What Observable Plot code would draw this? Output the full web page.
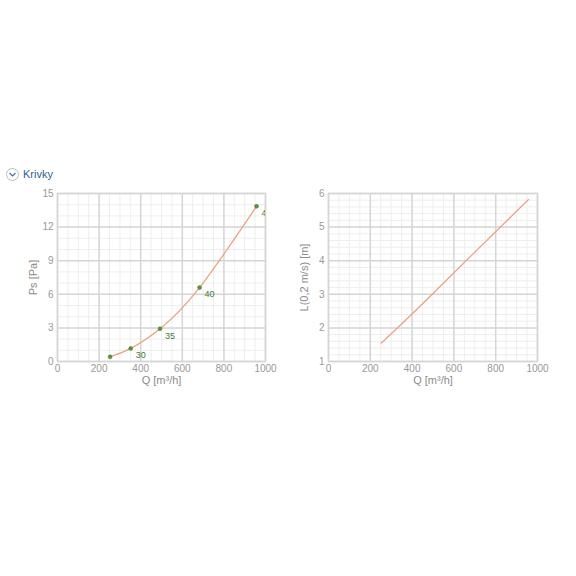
<!DOCTYPE html>
<html>
<head>
<meta charset="utf-8">
<script src="https://cdn.jsdelivr.net/npm/d3@7"></script>
<script src="https://cdn.jsdelivr.net/npm/@observablehq/plot@0.6"></script>
<style>
  html, body { margin: 0; padding: 0; background: #fff; }
  body { width: 576px; height: 576px; position: relative; overflow: hidden; font-family: "Liberation Sans", Arial, sans-serif; }
  #hdr { position: absolute; left: 6px; top: 166px; height: 16px; display: flex; align-items: center; }
  #hdr .ico { width: 13px; height: 13px; border: 1px solid #bbb; border-radius: 50%; box-sizing: border-box; display: flex; align-items: center; justify-content: center; }
  #hdr .txt { margin-left: 4px; font-size: 11px; color: #2f5f8f; }
  #left { position: absolute; left: 0; top: 180px; }
  #right { position: absolute; left: 288px; top: 180px; }
  svg [aria-label="x-axis label"] text, svg [aria-label="y-axis label"] text { font-size: 11px; fill: #8c8c8c; }
</style>
</head>
<body>
<div id="hdr"><div class="ico"><svg width="9" height="9" viewBox="0 0 9 9"><path d="M1.5 3 L4.5 6 L7.5 3" fill="none" stroke="#4a6a8a" stroke-width="1.1"/></svg></div><div class="txt">Krivky</div></div>
<div id="left"></div>
<div id="right"></div>
<script>
// Data
const speedLabels = [20, 25, 30, 35, 40, 45];
const flowQ = [215, 253, 352, 493, 683, 957];
const staticPs = [-0.3, 0.42, 1.17, 2.93, 6.6, 13.86];
const throwL = [1.3, 1.55, 2.13, 2.98, 4.15, 5.82];

const qTicks = [0, 200, 400, 600, 800, 1000];
const psTicks = [0, 3, 6, 9, 12, 15];
const lTicks = [1, 2, 3, 4, 5, 6];

const rows = speedLabels.map((s, i) => ({s, q: flowQ[i], ps: staticPs[i], l: throwL[i]}));
const curveRows = rows.filter(d => d.s >= 25);

const font = '"Liberation Sans", Arial, sans-serif';
const gridMinor = "#eeeeee";
const gridMajor = "#d6d6d6";
const curveColor = "#e9a07c";

function chart(yKey, yDomain, yTicks, yMinorStep, yLabel, margins, withPoints) {
  const marks = [
    Plot.gridX(d3.range(0, 1001, 50), {stroke: gridMinor, strokeOpacity: 1}),
    Plot.gridY(d3.range(yDomain[0], yDomain[1] + 1e-9, yMinorStep), {stroke: gridMinor, strokeOpacity: 1}),
    Plot.gridX(qTicks, {stroke: gridMajor, strokeOpacity: 1, strokeWidth: 1.5}),
    Plot.gridY(yTicks, {stroke: gridMajor, strokeOpacity: 1, strokeWidth: 1.5}),
    Plot.frame({stroke: gridMajor, strokeWidth: 1.5}),
    Plot.axisX(qTicks, {tickSize: 0, tickPadding: 3, tickFormat: d => String(d), label: "Q [m³/h]", labelArrow: "none", labelAnchor: "center", labelOffset: 22, fill: "#999"}),
    Plot.axisY(yTicks, {tickSize: 0, tickPadding: 4, tickFormat: d => String(d), label: yLabel, labelArrow: "none", labelAnchor: "center", labelOffset: 28, fill: "#999"}),
    Plot.line(curveRows, {x: "q", y: yKey, curve: "natural", stroke: curveColor, strokeWidth: 1.2, clip: true})
  ];
  if (withPoints) {
    marks.push(Plot.dot(rows, {x: "q", y: yKey, r: 2, fill: "#5f9140", stroke: "#4d7d33", strokeWidth: 0.5, clip: true}));
    marks.push(Plot.text(rows, {x: "q", y: yKey, text: d => String(d.s), dx: 5, dy: 7, textAnchor: "start", fill: "#3f7d2c", fontSize: 9, clip: true}));
  }
  return Plot.plot({
    width: 288,
    height: 220,
    ...margins,
    style: {fontFamily: font, fontSize: "10px", color: "#999", background: "transparent"},
    x: {domain: [0, 1000]},
    y: {domain: yDomain},
    marks
  });
}

document.getElementById("left").append(
  chart("ps", [0, 15], psTicks, 1, "Ps [Pa]", {marginLeft: 57, marginRight: 23, marginTop: 13, marginBottom: 39}, true)
);
document.getElementById("right").append(
  chart("l", [1, 6], lTicks, 0.2, "L(0,2 m/s) [m]", {marginLeft: 40, marginRight: 39, marginTop: 13, marginBottom: 39}, false)
);
</script>
</body>
</html>
